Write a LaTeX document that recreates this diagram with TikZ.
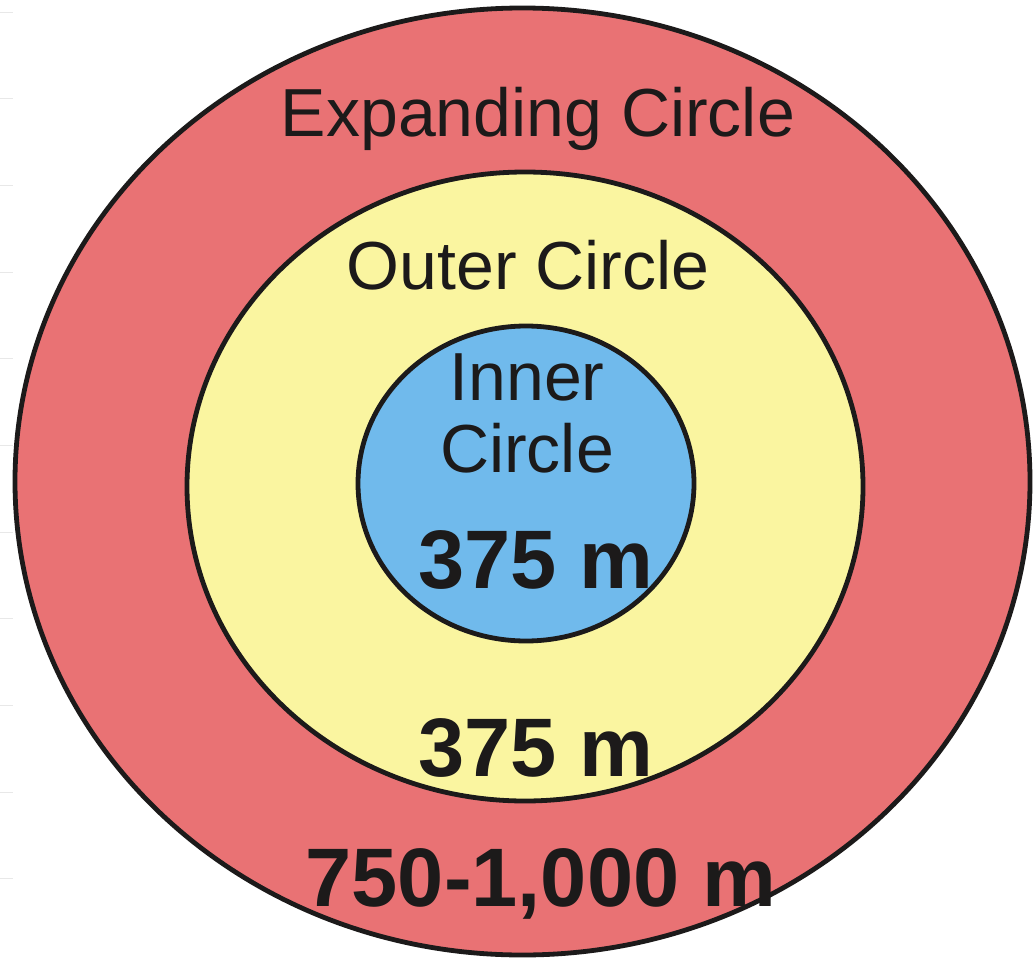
\documentclass[tikz,border=0pt]{standalone}
\usepackage{fontspec}
\setmainfont{Liberation Sans}
\definecolor{ringred}{RGB}{233,114,116}
\definecolor{ringyellow}{RGB}{250,245,160}
\definecolor{ringblue}{RGB}{112,186,236}
\definecolor{inkdark}{RGB}{28,26,26}
\begin{document}
\begin{tikzpicture}[x=1pt,y=-1pt,
  ring/.style={draw=inkdark,line width=4.8pt},
  lbl/.style={anchor=base,inner sep=0pt,text=inkdark,font=\fontsize{68}{72}\selectfont},
  num/.style={anchor=base,inner sep=0pt,text=inkdark,font=\fontsize{83}{86}\selectfont\bfseries},
  tick/.style={draw=gray!18,line width=1pt}]
\useasboundingbox (0,0) rectangle (1034,964);
\fill[white] (0,0) rectangle (1034,964);
\foreach \yy in {12,98,185,272,358,445,532,618,705,792,878}
  \draw[tick] (0,\yy) -- (13,\yy);
\draw[ring,fill=ringred] (522.5,481.5) ellipse [x radius=507.5, y radius=473.5];
\draw[ring,fill=ringyellow] (525,486.5) ellipse [x radius=338, y radius=314.5];
\draw[ring,fill=ringblue] (526,483.5) ellipse [x radius=168, y radius=157.5];
\node[lbl] (expanding) at (538,136) {Expanding Circle};
\node[lbl] (outer) at (528,289) {Outer Circle};
\node[lbl] (inner1) at (527,400) {Inner};
\node[lbl] (inner2) at (527,472) {Circle};
\node[num] (innerdist) at (536,588) {375 m};
\node[num] (outerdist) at (536,776) {375 m};
\node[num] (expdist) at (541,906) {750-1,000 m};
\end{tikzpicture}
\end{document}
